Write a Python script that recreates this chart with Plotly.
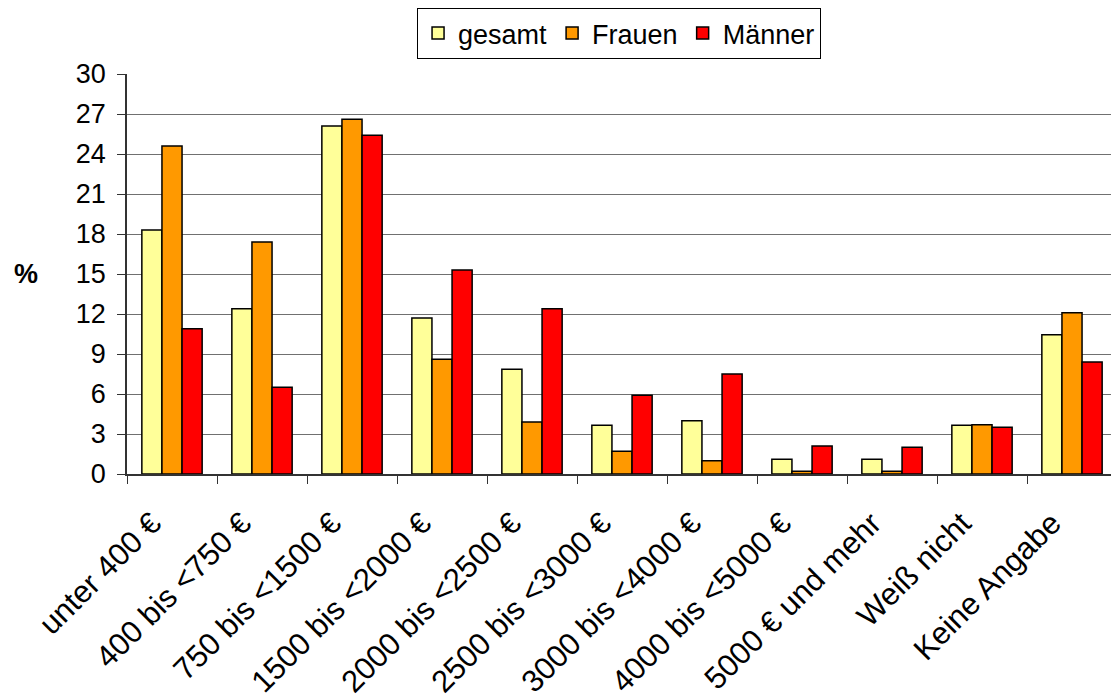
import plotly.graph_objects as go

categories = ["unter 400 €", "400 bis <750 €", "750 bis <1500 €", "1500 bis <2000 €",
              "2000 bis <2500 €", "2500 bis <3000 €", "3000 bis <4000 €", "4000 bis <5000 €",
              "5000 € und mehr", "Weiß nicht", "Keine Angabe"]
gesamt = [18.3, 12.4, 26.1, 11.7, 7.85, 3.65, 4.0, 1.1, 1.1, 3.65, 10.45]
frauen = [24.6, 17.4, 26.6, 8.6, 3.9, 1.7, 1.0, 0.2, 0.2, 3.7, 12.1]
maenner = [10.9, 6.5, 25.4, 15.3, 12.4, 5.9, 7.5, 2.1, 2.0, 3.5, 8.4]
y_ticks = [0, 3, 6, 9, 12, 15, 18, 21, 24, 27, 30]

FONT = "Arial, Liberation Sans, sans-serif"
line = dict(color="black", width=1.5)

fig = go.Figure()
fig.add_trace(go.Bar(name="gesamt", x=categories, y=gesamt, marker=dict(color="#FFFF99", line=line)))
fig.add_trace(go.Bar(name="Frauen", x=categories, y=frauen, marker=dict(color="#FF9900", line=line)))
fig.add_trace(go.Bar(name="Männer", x=categories, y=maenner, marker=dict(color="#FF0000", line=line)))

fig.update_layout(
    width=1111, height=692,
    margin=dict(l=119, r=2, t=66, b=226, autoexpand=False),
    paper_bgcolor="white", plot_bgcolor="white",
    barmode="group", bargap=0.33, bargroupgap=0,
    font=dict(family=FONT, size=27, color="black"),
    legend=dict(orientation="h", xref="container", yref="container",
                x=0.55, xanchor="center", y=1.0, yanchor="top",
                bordercolor="black", borderwidth=1, font=dict(size=27),
                itemwidth=30, tracegroupgap=0),
    showlegend=True,
)
fig.update_xaxes(
    tickangle=-45, tickson="boundaries", ticks="outside", ticklen=8, tickcolor="#333",
    showline=True, linecolor="#333", linewidth=1.5, tickfont=dict(size=31),
    ticklabelstandoff=17, ticklabelshift=-20, automargin=False,
)
fig.update_yaxes(
    range=[0, 30], tickvals=y_ticks, ticks="outside", ticklen=8, tickcolor="#333",
    showline=True, linecolor="#333", linewidth=1.5, gridcolor="#707070", gridwidth=1,
    tickfont=dict(size=27), zeroline=False, automargin=False, ticklabelstandoff=6,
)
fig.add_annotation(text="<b>%</b>", xref="paper", yref="paper", x=-0.102, y=0.5,
                   showarrow=False, font=dict(size=27), xanchor="center", yanchor="middle")

fig.write_html("out.html")
